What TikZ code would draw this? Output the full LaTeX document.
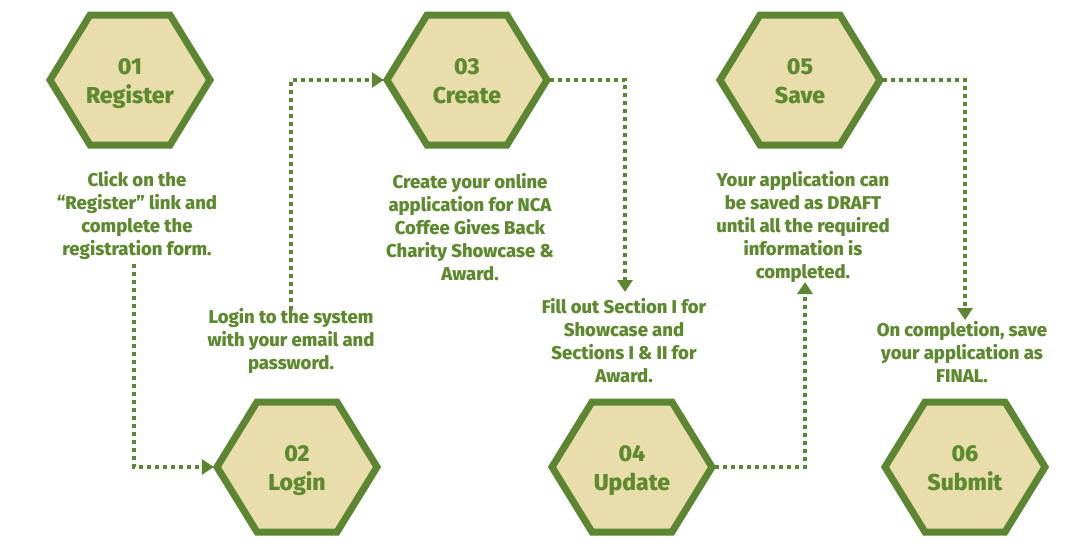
\documentclass[tikz,border=0pt]{standalone}
\usepackage{fontspec}
\IfFontExistsTF{Fira Sans ExtraBold}{%
  \setmainfont{Fira Sans}[BoldFont={Fira Sans ExtraBold}]}{%
  \setmainfont{Fira Sans}}
\usetikzlibrary{arrows.meta,calc}
\definecolor{hexborder}{RGB}{92,134,50}
\definecolor{hexfill}{RGB}{232,221,171}
\definecolor{txtgreen}{RGB}{94,138,47}
\tikzset{
  hexnode/.style={rectangle,minimum width=166pt,minimum height=136pt,inner sep=0pt},
  hexline/.style={draw=hexborder,fill=hexfill,line width=7pt,line join=miter},
  hexnum/.style={text=txtgreen,font=\fontsize{23}{26}\selectfont\bfseries,anchor=base,inner sep=0pt},
  desc/.style={text=txtgreen,align=center,font=\fontsize{18.5}{23}\selectfont\bfseries,inner sep=0pt},
  conn/.style={draw=hexborder,line width=4pt,dash pattern=on 4pt off 4pt,-{Triangle[length=12pt,width=15pt]}},
}
\newcommand{\hexagonat}[5]{%
  \node[hexnode] (#1) at (#2,#3) {};
  \draw[hexline] ($(#2,#3)+(-80,0)$) -- ($(#2,#3)+(-40,-65)$) -- ($(#2,#3)+(40,-65)$) -- ($(#2,#3)+(80,0)$) -- ($(#2,#3)+(40,65)$) -- ($(#2,#3)+(-40,65)$) -- cycle;
  \node[hexnum] (#1num) at ($(#2,#3)+(0,-6)$) {#4};
  \node[hexnum] (#1lab) at ($(#2,#3)+(0,23)$) {#5};
}
\begin{document}
\begin{tikzpicture}[x=1pt,y=-1pt]
\useasboundingbox[fill=white] (0,0) rectangle (1088,549);
\hexagonat{h1}{130}{80}{01}{Register}
\hexagonat{h2}{297}{467}{02}{Login}
\hexagonat{h3}{467}{80}{03}{Create}
\hexagonat{h4}{632}{467}{04}{Update}
\hexagonat{h5}{800}{80}{05}{Save}
\hexagonat{h6}{965}{467}{06}{Submit}

\node[desc] (d1) at (137,215.5) {Click on the\\``Register'' link and\\complete the\\registration form.};
\node[desc] (d2) at (291,341) {Login to the system\\with your email and\\password.};
\node[desc] (d3) at (470,227) {Create your online\\application for NCA\\Coffee Gives Back\\Charity Showcase \&\\Award.};
\node[desc] (d4) at (624,340.5) {Fill out Section I for\\Showcase and\\Sections I \& II for\\Award.};
\node[desc] (d5) at (803,227) {Your application can\\be saved as DRAFT\\until all the required\\information is\\completed.};
\node[desc] (d6) at (962,352) {On completion, save\\your application as\\FINAL.};

\coordinate (c1) at (134,264);
\coordinate (c2) at (291,310);
\coordinate (c3) at (625,292);
\coordinate (c4) at (805,282);
\coordinate (c5) at (965,320);

\draw[conn] (c1) |- (h2.west);
\draw[conn] (c2) |- (h3.west);
\draw[conn] (h3.east) -| (c3);
\draw[conn] (h4.east) -| (c4);
\draw[conn] (h5.east) -| (c5);
\end{tikzpicture}
\end{document}
